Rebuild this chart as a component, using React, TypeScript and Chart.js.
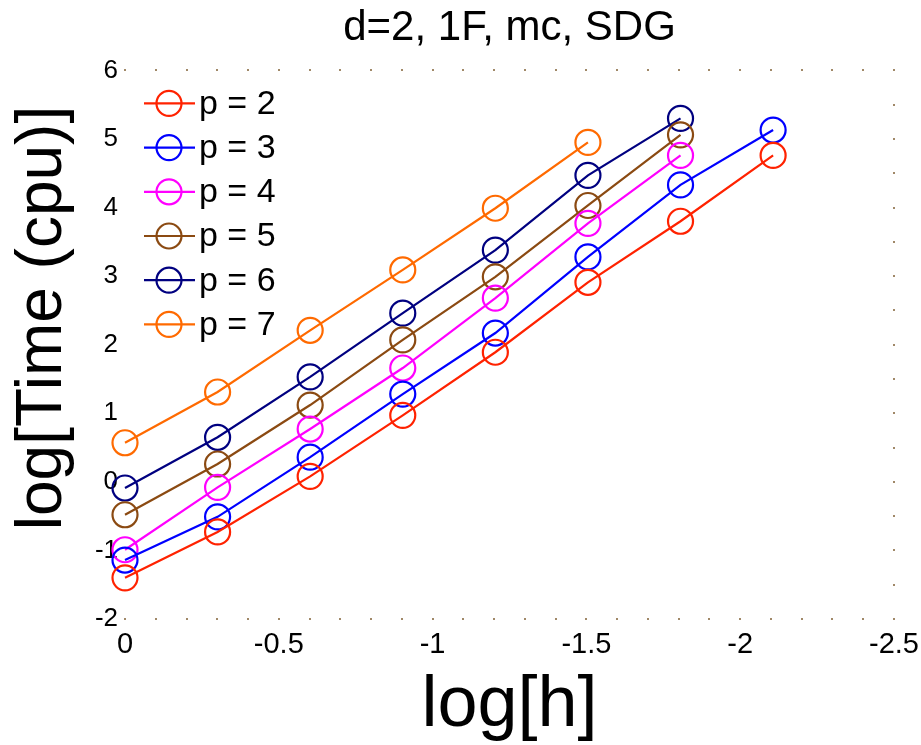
import React, { useEffect, useRef } from "react";
import { Chart, registerables } from "chart.js";

Chart.register(...registerables);

const logH = [0, -0.301, -0.602, -0.903, -1.204, -1.505, -1.806, -2.107];

const p2 = [-1.4, -0.73, 0.08, 0.97, 1.89, 2.91, 3.8, 4.76];
const p3 = [-1.14, -0.51, 0.36, 1.28, 2.17, 3.28, 4.33, 5.13];
const p4 = [-0.99, -0.08, 0.77, 1.66, 2.68, 3.77, 4.76];
const p5 = [-0.48, 0.26, 1.12, 2.07, 2.99, 4.03, 5.06];
const p6 = [-0.09, 0.65, 1.53, 2.46, 3.38, 4.47, 5.3];
const p7 = [0.57, 1.31, 2.21, 3.09, 3.99, 4.95];

const seriesLabels = ["p = 2", "p = 3", "p = 4", "p = 5", "p = 6", "p = 7"];
const seriesValues = [p2, p3, p4, p5, p6, p7];
const seriesColors = ["#ff2200", "#0000ff", "#ff00ff", "#8b4a12", "#000080", "#ff6a00"];

const titleText = "d=2, 1F, mc, SDG";
const xTitle = "log[h]";
const yTitle = "log[Time (cpu)]";

const FONT = "'Liberation Sans', Arial, Helvetica, sans-serif";

const dottedBox = {
  id: "dottedBox",
  beforeDatasetsDraw(chart: any) {
    const { ctx, chartArea, scales } = chart;
    const xs = scales.x;
    const ys = scales.y;
    ctx.save();
    ctx.fillStyle = "#a08868";
    for (let i = 0; i <= 25; i++) {
      const px = Math.round(xs.getPixelForValue(-i / 10));
      ctx.fillRect(px - 1, Math.round(chartArea.top) - 1, 2, 2);
      ctx.fillRect(px - 1, Math.round(chartArea.bottom) - 1, 2, 2);
    }
    for (let j = 0; j <= 16; j++) {
      const py = Math.round(ys.getPixelForValue(-2 + j / 2));
      ctx.fillRect(Math.round(chartArea.right) - 1, py - 1, 2, 2);
    }
    ctx.restore();
  },
};

const inlineLegend = {
  id: "inlineLegend",
  afterDatasetsDraw(chart: any) {
    const { ctx, chartArea } = chart;
    ctx.save();
    chart.data.datasets.forEach((ds: any, i: number) => {
      const y = chartArea.top + 33 + i * 44.2;
      const x0 = chartArea.left + 19;
      ctx.strokeStyle = ds.borderColor;
      ctx.lineWidth = 2.2;
      ctx.beginPath();
      ctx.moveTo(x0, y);
      ctx.lineTo(x0 + 51, y);
      ctx.stroke();
      ctx.beginPath();
      ctx.arc(x0 + 25, y, 12.5, 0, Math.PI * 2);
      ctx.stroke();
      ctx.fillStyle = "#000";
      ctx.font = `34px ${FONT}`;
      ctx.textBaseline = "middle";
      ctx.textAlign = "left";
      ctx.fillText(ds.label, x0 + 55, y + 1);
    });
    ctx.restore();
  },
};

export default function App() {
  const ref = useRef<HTMLCanvasElement | null>(null);

  useEffect(() => {
    if (!ref.current) return;
    const datasets = seriesValues.map((vals, i) => ({
      label: seriesLabels[i],
      data: vals.map((v, k) => ({ x: logH[k], y: v })),
      borderColor: seriesColors[i],
      backgroundColor: seriesColors[i],
      borderWidth: 2.2,
      pointRadius: 12.5,
      pointHoverRadius: 12.5,
      pointBorderWidth: 2.2,
      pointBorderColor: seriesColors[i],
      pointBackgroundColor: "rgba(0,0,0,0)",
      pointStyle: "circle",
      tension: 0,
      clip: false as any,
    }));

    const chart = new Chart(ref.current, {
      type: "line",
      data: { datasets },
      plugins: [dottedBox, inlineLegend],
      options: {
        animation: false,
        responsive: false,
        devicePixelRatio: 1,
        layout: { padding: { left: 0, right: 27, top: 0, bottom: 0 } },
        plugins: {
          legend: { display: false },
          tooltip: { enabled: false },
          title: {
            display: true,
            fullSize: false,
            text: titleText,
            color: "#000",
            font: { family: FONT, size: 42, weight: "normal" },
            padding: { top: 3, bottom: 17 },
          },
        },
        scales: {
          x: {
            type: "linear",
            reverse: true,
            min: -2.5,
            max: 0,
            grid: { display: false, drawTicks: false },
            border: { display: false },
            ticks: {
              stepSize: 0.5,
              color: "#000",
              padding: 9,
              font: { family: FONT, size: 29 },
              callback: (v: any) => String(Number(v)),
            },
            title: {
              display: true,
              text: xTitle,
              color: "#000",
              font: { family: FONT, size: 72 },
              padding: { top: 0, bottom: -4 },
            },
            afterFit: (s: any) => {
              s.height = 126;
              s.paddingLeft = 0;
              s.paddingRight = 0;
            },
          },
          y: {
            type: "linear",
            min: -2,
            max: 6,
            grid: { display: false, drawTicks: false },
            border: { display: false },
            ticks: {
              stepSize: 1,
              color: "#000",
              padding: 7,
              font: { family: FONT, size: 26 },
              callback: (v: any) => String(Number(v)),
            },
            title: {
              display: true,
              text: "\u00A0\u00A0\u00A0" + yTitle,
              color: "#000",
              font: { family: FONT, size: 64 },
              padding: { top: 5, bottom: 0 },
            },
            afterFit: (s: any) => {
              s.width = 125;
              s.paddingTop = 0;
              s.paddingBottom = 0;
            },
          },
        },
      },
    });
    return () => chart.destroy();
  }, []);

  return (
    <div style={{ position: "absolute", left: 0, top: 0, width: 921, height: 745, background: "#fff" }}>
      <canvas ref={ref} width={921} height={745} style={{ display: "block" }} />
    </div>
  );
}
